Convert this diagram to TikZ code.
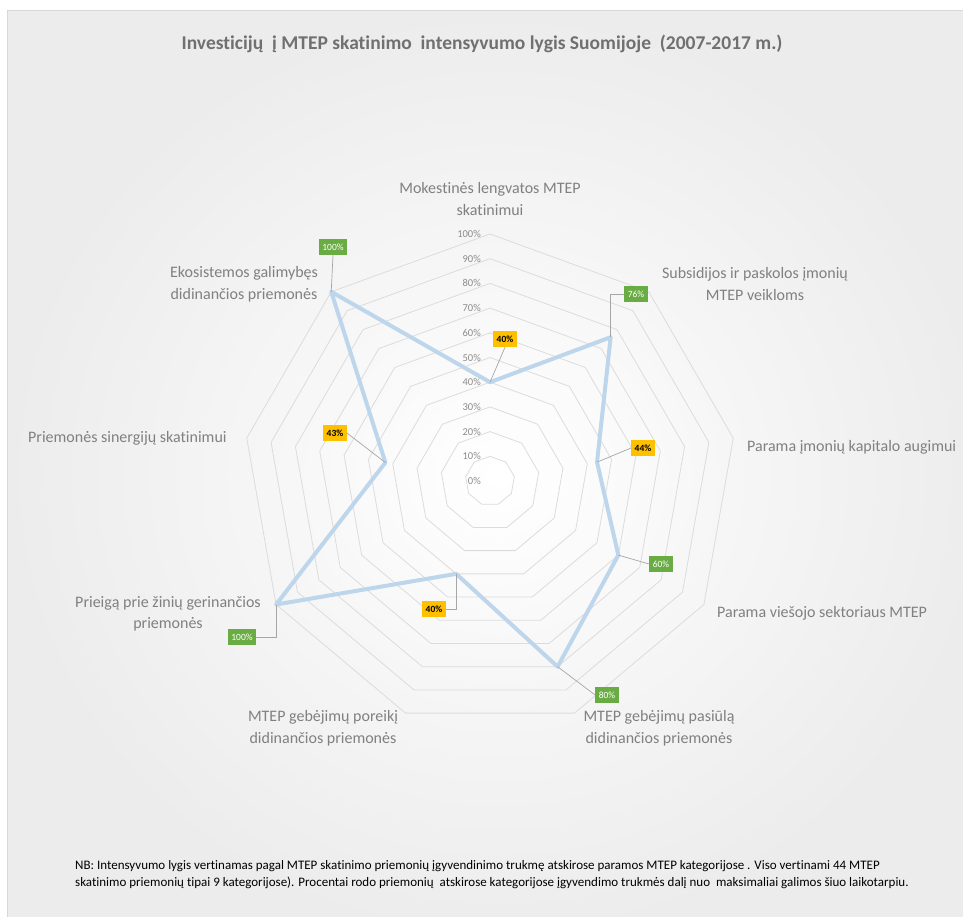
\documentclass[tikz,border=0pt]{standalone}
\usepackage{fontspec}
\setmainfont{Carlito}[Ligatures=NoCommon]
\definecolor{labgray}{RGB}{128,128,128}
\definecolor{tickgray}{RGB}{140,140,140}
\definecolor{titlegray}{RGB}{112,112,112}
\definecolor{gridgray}{RGB}{220,220,220}
\definecolor{leadgray}{RGB}{166,166,166}
\definecolor{serblue}{RGB}{190,214,236}
\definecolor{boxgreen}{RGB}{106,172,68}
\definecolor{boxyellow}{RGB}{255,192,0}
\definecolor{bggray}{RGB}{236,236,236}
\definecolor{bordergray}{RGB}{215,215,215}
\begin{document}
\begin{tikzpicture}[x=1pt,y=-1pt,
  catlabel/.style={text=labgray, font=\fontsize{16}{21.5}\selectfont, align=center, inner sep=0pt},
  ticklabel/.style={text=tickgray, font=\fontsize{10.5}{12}\selectfont, anchor=east, inner sep=0pt},
  gridline/.style={draw=gridgray, line width=0.8pt, line join=round},
  dataline/.style={draw=serblue, line width=4pt, line join=round},
  leader/.style={draw=leadgray, line width=0.7pt},
  greenbox/.style={fill=boxgreen, text=white, font=\fontsize{9.5}{11}\selectfont, inner xsep=3.5pt, inner ysep=0pt, minimum height=16pt},
  yellowbox/.style={fill=boxyellow, text=black, font=\bfseries\fontsize{9.5}{11}\selectfont, inner xsep=3.5pt, inner ysep=0pt, minimum height=16pt},
]
\useasboundingbox (0,0) rectangle (963,916);
\clip (0,0) rectangle (963,916);
\fill[white] (0,0) rectangle (963,916);
\shade[inner color=white, outer color=bggray] (7,10) rectangle (990,940);
\draw[bordergray, line width=0.8pt] (7,940) -- (7,10) -- (990,10);

% title
\node[font=\bfseries\fontsize{19.5}{22}\selectfont, text=titlegray, inner sep=0pt] (title) at (482,44)
  {Investicijų\ \ į MTEP skatinimo\ \ intensyvumo lygis Suomijoje\ \ (2007-2017 m.)};

% grid polygons
\foreach \k in {1,...,10}{
  \pgfmathsetmacro\r{24.7*\k}
  \draw[gridline] ({490+\r*cos(90)},{481-\r*sin(90)})
    \foreach \i in {1,...,8}{ -- ({490+\r*cos(90-40*\i)},{481-\r*sin(90-40*\i)}) } -- cycle;
}

% tick labels
\foreach \k in {0,...,10}{
  \pgfmathtruncatemacro\pc{10*\k}
  \node[ticklabel] (t\k) at (481,{481-24.7*\k}) {\pc\%};
}

% data points
\foreach \i/\v in {0/40,1/76,2/44,3/60,4/80,5/40,6/100,7/43,8/100}{
  \coordinate (p\i) at ({490+2.47*\v*cos(90-40*\i)},{481-2.47*\v*sin(90-40*\i)});
}
\draw[dataline] (p0) -- (p1) -- (p2) -- (p3) -- (p4) -- (p5) -- (p6) -- (p7) -- (p8) -- cycle;

% data labels
\node[yellowbox] (b0) at (505,339) {40\%};
\node[greenbox]  (b1) at (636,294) {76\%};
\node[yellowbox] (b2) at (643,448) {44\%};
\node[greenbox]  (b3) at (661,564) {60\%};
\node[greenbox]  (b4) at (607,695) {80\%};
\node[yellowbox] (b5) at (434,609) {40\%};
\node[greenbox]  (b6) at (242,637) {100\%};
\node[yellowbox] (b7) at (335,433) {43\%};
\node[greenbox]  (b8) at (333,247) {100\%};

\draw[leader] (p0) -- (b0.south);
\draw[leader] (p1) |- (b1.west);
\draw[leader] (p2) -- (b2.west);
\draw[leader] (p3) -- (b3.west);
\draw[leader] (p4) -- (b4.west);
\draw[leader] (p5) |- (b5.east);
\draw[leader] (p6) |- (b6.east);
\draw[leader] (p7) -- (b7.east);
\draw[leader] (p8) -- (b8.south);

% category labels
\node[catlabel] (c0) at (490,199) {Mokestinės lengvatos MTEP\\skatinimui};
\node[catlabel] (c1) at (755,284) {Subsidijos ir paskolos įmonių\\MTEP veikloms};
\node[catlabel, anchor=west] (c2) at (747,447) {Parama įmonių kapitalo augimui};
\node[catlabel, anchor=west] (c3) at (717,613) {Parama viešojo sektoriaus MTEP};
\node[catlabel] (c4) at (659,728) {MTEP gebėjimų pasiūlą\\didinančios priemonės};
\node[catlabel] (c5) at (323,728) {MTEP gebėjimų poreikį\\didinančios priemonės};
\node[catlabel] (c6) at (168,614) {Prieigą prie žinių gerinančios\\priemonės};
\node[catlabel, anchor=west] (c7) at (28,438) {Priemonės sinergijų skatinimui};
\node[catlabel] (c8) at (244,284) {Ekosistemos galimybęs\\didinančios priemonės};

% footnote
\node[anchor=west, align=left, inner sep=0pt, font=\fontsize{13}{17}\selectfont] (note) at (75,874.5)
  {NB: Intensyvumo lygis vertinamas pagal MTEP skatinimo priemonių įgyvendinimo trukmę atskirose paramos MTEP kategorijose . Viso vertinami 44 MTEP\\
   skatinimo priemonių tipai 9 kategorijose). Procentai rodo priemonių\ \ atskirose kategorijose įgyvendimo trukmės dalį nuo\ \ maksimaliai galimos šiuo laikotarpiu.};
\end{tikzpicture}
\end{document}
